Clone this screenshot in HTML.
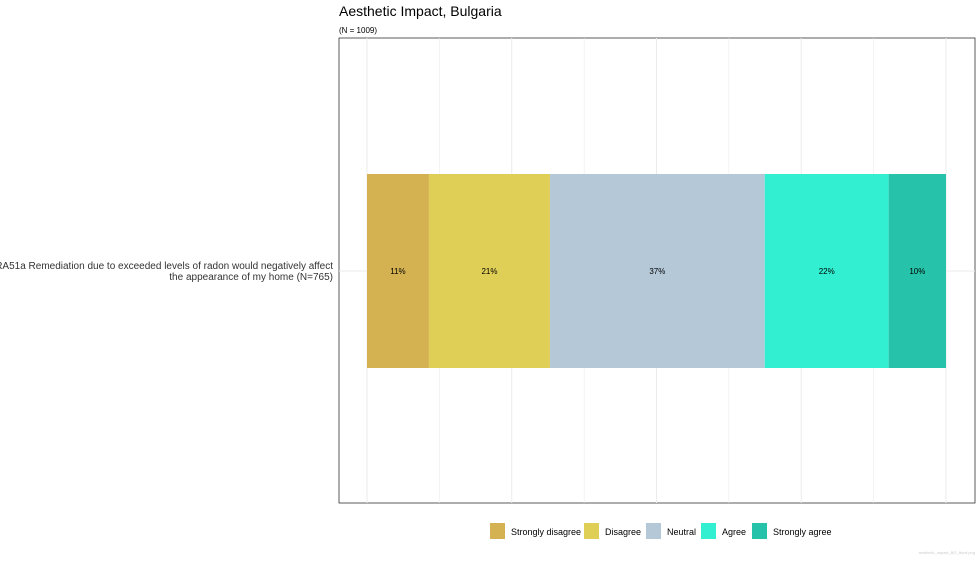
<!DOCTYPE html>
<html><head><meta charset="utf-8"><style>
body{margin:0;background:#fff;font-family:"Liberation Sans",sans-serif;}
svg text{font-family:"Liberation Sans",sans-serif;}
</style></head><body>
<svg width="980" height="560" id="c" xmlns="http://www.w3.org/2000/svg">
<text x="339" y="16" font-size="14" fill="#000">Aesthetic Impact, Bulgaria</text>
<text x="339" y="33" font-size="8" fill="#000">(N = 1009)</text>
<rect x="339" y="38" width="636" height="465" fill="#fff" stroke="#333" stroke-width="0.8"/>
<g id="grid"></g>
<g id="bars"></g>
<text x="333" y="269" font-size="10" text-anchor="end" fill="#333">RA51a Remediation due to exceeded levels of radon would negatively affect</text>
<text x="333" y="280" font-size="10" text-anchor="end" fill="#333">the appearance of my home (N=765)</text>
<g id="legend"></g>
<text x="975" y="554" font-size="4" text-anchor="end" fill="#ccc">aesthetic_impact_BG_likert.png</text>
</svg>
<script>
const categories=["Strongly disagree","Disagree","Neutral","Agree","Strongly agree"];
const values=[10.7,20.9,37.1,21.4,9.9];
const labels=["11%","21%","37%","22%","10%"];
const colors=["#d4b252","#e0cf56","#b4c8d8","#31efd0","#26c3aa"];
const ticks=[0,12.5,25,37.5,50,62.5,75,87.5,100];
const NS="http://www.w3.org/2000/svg";
const x0=367,x1=946;
function xs(v){return x0+(x1-x0)*v/100;}
function mk(t,a,p){const e=document.createElementNS(NS,t);for(const k in a)e.setAttribute(k,a[k]);p.appendChild(e);return e;}
const g=document.getElementById('grid');
ticks.forEach((t,i)=>{const l=mk('line',{x1:xs(t),x2:xs(t),y1:38,y2:503,stroke:'#ebebeb','stroke-width':i%2?0.6:1},g);

});
const hl=mk('line',{x1:339,x2:975,y1:271,y2:271,stroke:'#ebebeb','stroke-width':1},g);


const b=document.getElementById('bars');
let cum=0;
values.forEach((v,i)=>{
const r=mk('rect',{x:xs(cum),y:174,width:xs(cum+v)-xs(cum),height:194,fill:colors[i]},b);


const t=mk('text',{x:(xs(cum)+xs(cum+v))/2,y:274,'font-size':8,'text-anchor':'middle',fill:'#000'},b);
t.textContent=labels[i];


cum+=v;});
const lg=document.getElementById('legend');
const lx=[490,584,646,701,752];
categories.forEach((c,i)=>{
const r=mk('rect',{x:lx[i],y:523,width:15,height:16,fill:colors[i]},lg);


const t=mk('text',{x:lx[i]+21,y:535,'font-size':9,fill:'#000'},lg);
t.textContent=c;

});
</script>
</body></html>
